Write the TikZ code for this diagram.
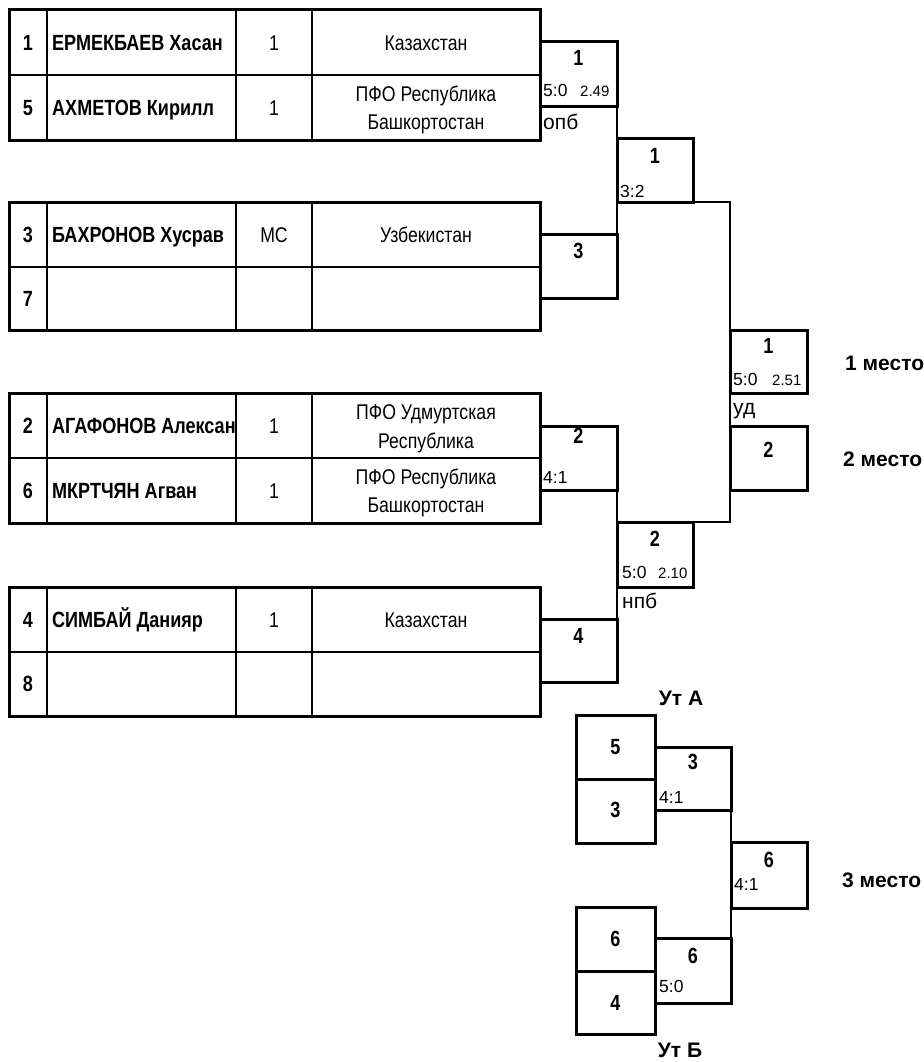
\documentclass[tikz,border=0pt]{standalone}
\usepackage{fontspec}
\setmainfont{Liberation Sans}[FakeStretch=0.82]
\newfontfamily\regf{Liberation Sans}[FakeStretch=0.83]
\newfontfamily\plainf{Liberation Sans}
\begin{document}
\begin{tikzpicture}[x=1pt,y=-1pt,
  tbl/.style={line width=3pt},
  grid/.style={line width=2pt},
  box/.style={draw, line width=3pt, anchor=north west, inner sep=0pt, outer sep=0pt},
  conn/.style={line width=1.5pt},
  bnum/.style={inner sep=0pt, anchor=base, font=\fontsize{22}{26}\selectfont\bfseries},
  bname/.style={inner sep=0pt, anchor=west, text height=15.7pt, text depth=0pt, font=\fontsize{22}{26}\selectfont\bfseries},
  bseed/.style={inner sep=0pt, anchor=center, text height=15.7pt, text depth=0pt, font=\fontsize{22}{26}\selectfont\bfseries},
  rtxt/.style={inner sep=0pt, anchor=center, text height=15.2pt, text depth=0pt, font=\regf\fontsize{21.3}{25}\selectfont},
  score/.style={inner sep=0pt, anchor=base west, font=\plainf\fontsize{17.5}{21}\selectfont},
  tim/.style={inner sep=0pt, anchor=base west, font=\plainf\fontsize{15}{18}\selectfont},
  note/.style={inner sep=0pt, anchor=base west, font=\plainf\fontsize{21}{25}\selectfont},
  place/.style={inner sep=0pt, anchor=base west, font=\plainf\fontsize{21}{25}\selectfont\bfseries},
  lab/.style={inner sep=0pt, anchor=base, font=\plainf\fontsize{21}{25}\selectfont\bfseries},
]
\useasboundingbox (0,0) rectangle (923,1062);

% ---------- tables ----------
\foreach \t/\m/\b in {10/75/140, 202/267/330, 393/458/523, 587/652/716}{
  \draw[grid] (47,\t) -- (47,\b) (236,\t) -- (236,\b) (312,\t) -- (312,\b) (9,\m) -- (540,\m);
  \draw[tbl] (9,\t) rectangle (540,\b);
}

% table 1
\node[bseed] (s1) at (28,42.5) {1};
\node[bname] (n1) at (52,42.5) {ЕРМЕКБАЕВ Хасан};
\node[rtxt]  (k1) at (274,42.5) {1};
\node[rtxt]  (g1) at (426,42.5) {Казахстан};
\node[bseed] (s5) at (28,107.5) {5};
\node[bname] (n5) at (52,107.5) {АХМЕТОВ Кирилл};
\node[rtxt]  (k5) at (274,107.5) {1};
\node[rtxt]  (g5a) at (426,93.5) {ПФО Республика};
\node[rtxt]  (g5b) at (426,121.5) {Башкортостан};

% table 2
\node[bseed] (s3) at (28,234.5) {3};
\node[bname] (n3) at (52,234.5) {БАХРОНОВ Хусрав};
\node[rtxt]  (k3) at (274,234.5) {МС};
\node[rtxt]  (g3) at (426,234.5) {Узбекистан};
\node[bseed] (s7) at (28,298.5) {7};

% table 3
\node[bseed] (s2) at (28,425.5) {2};
\node[bname] (n2) at (52,425.5) {АГАФОНОВ Алексан};
\node[rtxt]  (k2) at (274,425.5) {1};
\node[rtxt]  (g2a) at (426,411.5) {ПФО Удмуртская};
\node[rtxt]  (g2b) at (426,440.5) {Республика};
\node[bseed] (s6) at (28,490.5) {6};
\node[bname] (n6) at (52,490.5) {МКРТЧЯН Агван};
\node[rtxt]  (k6) at (274,490.5) {1};
\node[rtxt]  (g6a) at (426,476.5) {ПФО Республика};
\node[rtxt]  (g6b) at (426,504.5) {Башкортостан};

% table 4
\node[bseed] (s4) at (28,619.5) {4};
\node[bname] (n4) at (52,619.5) {СИМБАЙ Данияр};
\node[rtxt]  (k4) at (274,619.5) {1};
\node[rtxt]  (g4) at (426,619.5) {Казахстан};
\node[bseed] (s8) at (28,684) {8};

% ---------- bracket boxes ----------
\node[box, minimum width=77pt, minimum height=65pt] (r1a) at (540,42) {};
\node[box, minimum width=77pt, minimum height=64pt] (r1b) at (540,234) {};
\node[box, minimum width=76pt, minimum height=64pt] (sf1) at (617,138) {};
\node[box, minimum width=77pt, minimum height=63pt] (fin1) at (730,330) {};
\node[box, minimum width=77pt, minimum height=64pt] (fin2) at (730,426) {};
\node[box, minimum width=77pt, minimum height=64pt] (r1c) at (540,426) {};
\node[box, minimum width=76pt, minimum height=65pt] (sf2) at (617,522) {};
\node[box, minimum width=77pt, minimum height=63pt] (r1d) at (540,619) {};

\node[box, minimum width=79pt, minimum height=64pt] (a5) at (576,715) {};
\node[box, minimum width=79pt, minimum height=64pt] (a3) at (576,779) {};
\node[box, minimum width=76pt, minimum height=63pt] (utA) at (655,747) {};
\node[box, minimum width=76pt, minimum height=66pt] (b3) at (731,842) {};
\node[box, minimum width=76pt, minimum height=65pt] (utB) at (655,938) {};
\node[box, minimum width=79pt, minimum height=64pt] (b6) at (576,907) {};
\node[box, minimum width=79pt, minimum height=63pt] (b4) at (576,971) {};

% ---------- connectors ----------
\draw[conn] (r1a.south east) -- (sf1.north west);
\draw[conn] (r1b.north east) -- (sf1.south west);
\draw[conn] (sf1.south east) -| (fin1.north west);
\draw[conn] (fin1.south west) -- (fin2.north west);
\draw[conn] (fin2.south west) |- (sf2.north east);
\draw[conn] (r1c.south east) -- (sf2.north west);
\draw[conn] (r1d.north east) -- (sf2.south west);
\draw[conn] (utA.south east) -- (b3.north west);
\draw[conn] (b3.south west) -- (utB.north east);

% ---------- box contents ----------
\node[bnum] (r1an) at (578.5,66) {1};
\node[score] (r1as) at (543,97) {5:0};
\node[tim] (r1at) at (580,97) {2.49};
\node[note] (r1ax) at (543,129) {опб};

\node[bnum] (sf1n) at (655,163) {1};
\node[score] (sf1s) at (620,197) {3:2};

\node[bnum] (r1bn) at (578.5,258) {3};

\node[bnum] (fin1n) at (768.5,353) {1};
\node[score] (fin1s) at (733,385) {5:0};
\node[tim] (fin1t) at (772,385) {2.51};
\node[note] (fin1x) at (733,414) {уд};
\node[bnum] (fin2n) at (768.5,457) {2};

\node[bnum] (r1cn) at (578.5,443) {2};
\node[score] (r1cs) at (543,483) {4:1};

\node[bnum] (sf2n) at (655,546) {2};
\node[score] (sf2s) at (622,578) {5:0};
\node[tim] (sf2t) at (658,578) {2.10};
\node[note] (sf2x) at (622,608) {нпб};

\node[bnum] (r1dn) at (578.5,643) {4};

\node[bnum] (a5n) at (615.5,754) {5};
\node[bnum] (a3n) at (615.5,817) {3};
\node[bnum] (utAn) at (693,769) {3};
\node[score] (utAs) at (659,803) {4:1};
\node[bnum] (b3n) at (769,867) {6};
\node[score] (b3s) at (734,890) {4:1};
\node[bnum] (utBn) at (693,963) {6};
\node[score] (utBs) at (659,992) {5:0};
\node[bnum] (b6n) at (615.5,946) {6};
\node[bnum] (b4n) at (615.5,1010) {4};

% ---------- labels ----------
\node[lab] (labA) at (681,705) {Ут А};
\node[lab] (labB) at (680,1057) {Ут Б};
\node[place] (p1) at (845,370) {1 место};
\node[place] (p2) at (843,466) {2 место};
\node[place] (p3) at (842,887) {3 место};
\end{tikzpicture}
\end{document}
